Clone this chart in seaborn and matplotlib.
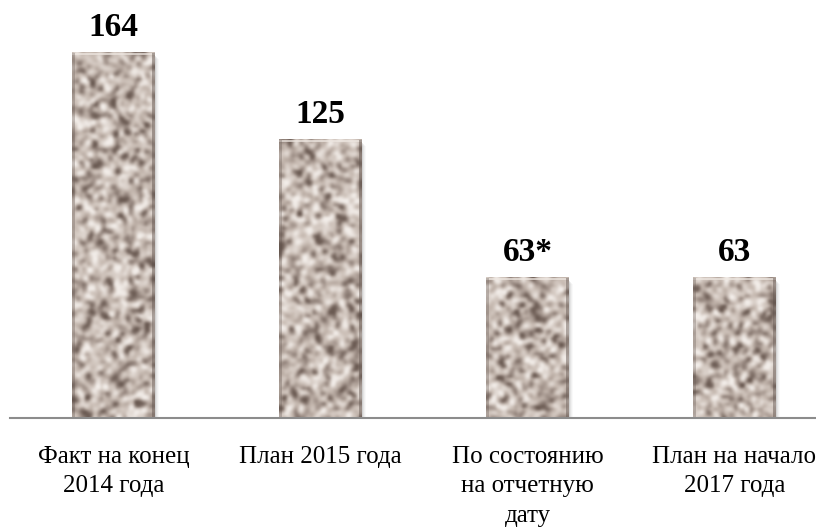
import numpy as np
import pandas as pd
import matplotlib
matplotlib.use('Agg')
import matplotlib.pyplot as plt
from matplotlib.colors import LinearSegmentedColormap
import seaborn as sns

# ---------- data ----------
categories = ['Факт на конец\n2014 года', 'План 2015 года',
              'По состоянию\nна отчетную\nдату', 'План на начало\n2017 года']
values = [164, 125, 63, 63]
value_labels = ['164', '125', '63*', '63']

df = pd.DataFrame({'cat': categories, 'val': values})

sns.set_theme(style='white')
plt.rcParams['font.family'] = ['Liberation Serif', 'DejaVu Serif']

fig = plt.figure(figsize=(8.16, 5.27), dpi=100)
# axes spans a bit past right edge (last label is cut in the original)
ax = fig.add_axes([10 / 816, 109 / 527, 828 / 816, 401 / 527])

sns.barplot(data=df, x='cat', y='val', ax=ax, width=0.4,
            color='#c8bab0', edgecolor='none', saturation=1)
ax.set_ylim(0, 180)
ax.set_xlim(-0.5, 3.5)

# granite-like texture for the bars (styling only)
granite = LinearSegmentedColormap.from_list(
    'granite', ['#6a5a52', '#9a8b83', '#c4b7ae', '#d9cfc8', '#f3eeea'])
rng = np.random.default_rng(11)

def texture(h, w):
    n = rng.normal(size=(h, w))
    k = np.array([0.25, 0.5, 0.25])
    n = np.apply_along_axis(lambda r: np.convolve(r, k, mode='same'), 0, n)
    n = np.apply_along_axis(lambda r: np.convolve(r, k, mode='same'), 1, n)
    n = (n - n.mean()) / n.std()
    return n

for p, lab in zip(ax.patches, value_labels):
    x0, y0 = p.get_x(), p.get_y()
    w, h = p.get_width(), p.get_height()
    # soft shadow right / below
    for i, a in enumerate([0.12, 0.08, 0.05, 0.03]):
        ax.add_patch(plt.Rectangle((x0 + 0.005 * (i + 1), y0 - 0.5 * (i + 1)), w, h - 1,
                                   color='#555555', alpha=a, zorder=1, lw=0))
    tex = texture(int(h * 2.2 / 2.6) + 3, 32)
    ax.imshow(tex, cmap=granite, extent=(x0, x0 + w, y0, y0 + h),
              aspect='auto', zorder=3, interpolation='bicubic', vmin=-2.0, vmax=1.8)
    # bevel: lighter top, darker sides
    ax.add_patch(plt.Rectangle((x0, y0 + h - 1.2), w, 1.2, color='#efe8e2', alpha=0.7, lw=0, zorder=4))
    ax.add_patch(plt.Rectangle((x0, y0), 0.012, h, color='#5c4f49', alpha=0.3, lw=0, zorder=4))
    ax.add_patch(plt.Rectangle((x0 + w - 0.012, y0), 0.012, h, color='#5c4f49', alpha=0.45, lw=0, zorder=4))
    ax.annotate(lab, (x0 + w / 2, y0 + h), xytext=(0, 12), textcoords='offset points',
                ha='center', va='baseline', fontsize=24, fontweight='bold', color='black')

ax.set_aspect('auto')
ax.set_ylim(0, 180)
ax.set_xlim(-0.5, 3.5)

sns.despine(ax=ax, left=True)
ax.spines['bottom'].set_color('#8c8c8c')
ax.spines['bottom'].set_linewidth(1.5)
ax.spines['bottom'].set_zorder(5)
ax.set_yticks([])
ax.set_xlabel('')
ax.set_ylabel('')
ax.tick_params(axis='x', length=0, pad=20, labelsize=18, labelcolor='black')
for t in ax.get_xticklabels():
    t.set_verticalalignment('top')
    t.set_linespacing(1.45)

fig.savefig('out.png', dpi=100)
